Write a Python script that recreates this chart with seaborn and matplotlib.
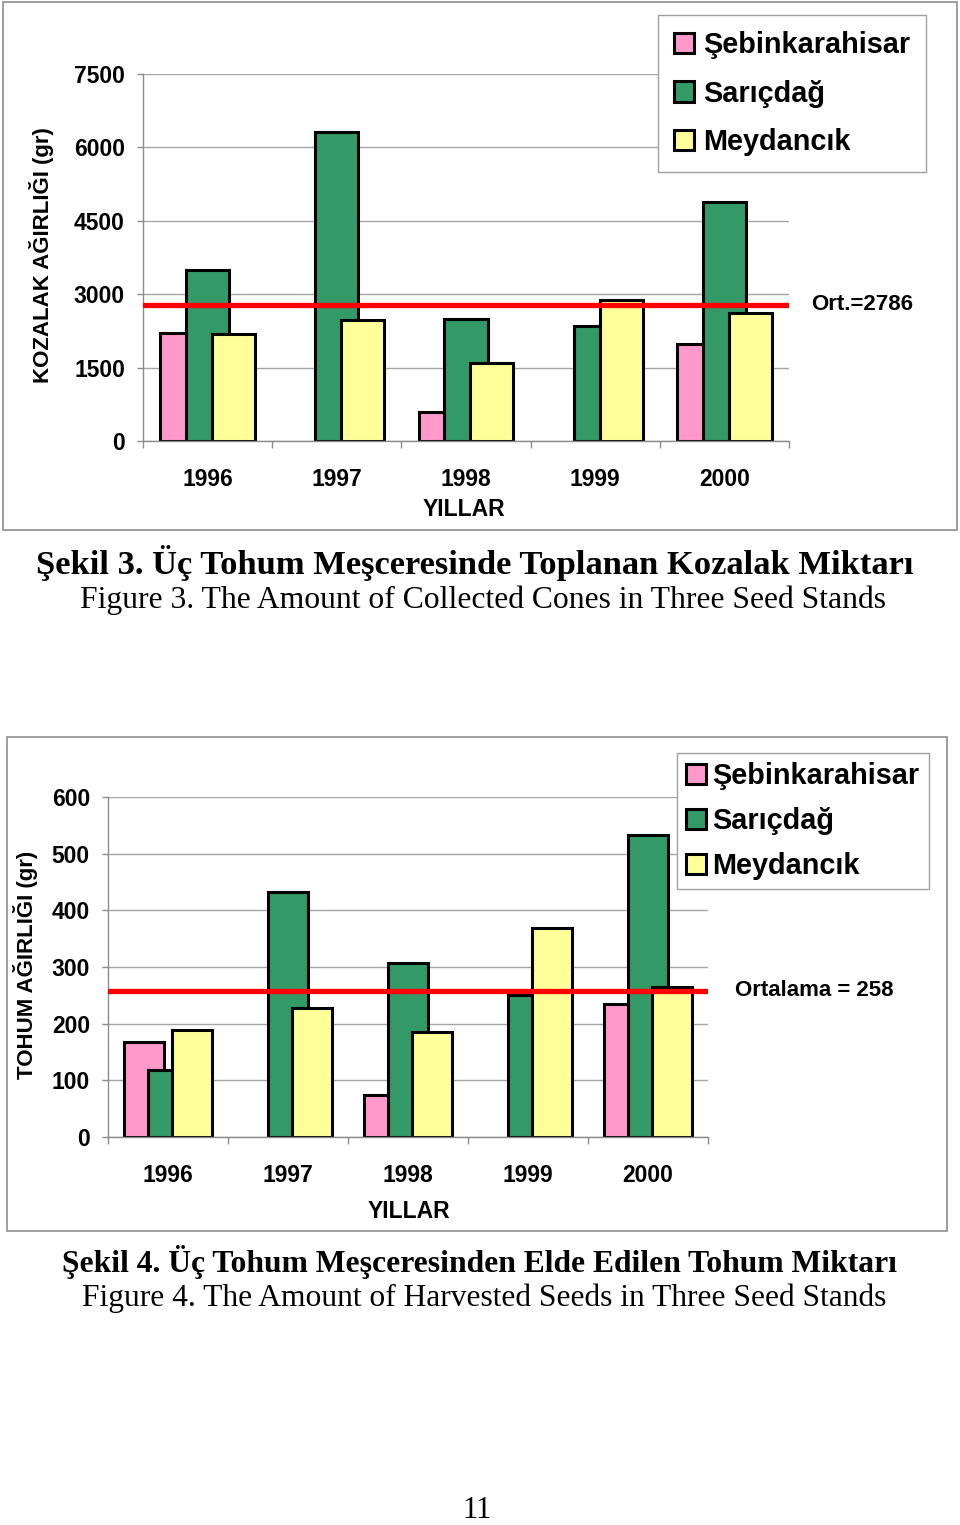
import numpy as np
import pandas as pd
import matplotlib
matplotlib.use("Agg")
import matplotlib.pyplot as plt
import matplotlib.transforms as mtransforms
from matplotlib.patches import Rectangle
import seaborn as sns

# data
years = ["1996", "1997", "1998", "1999", "2000"]
stands = ["Şebinkarahisar", "Sarıçdağ", "Meydancık"]
stand_colors = ["#FF99CC", "#339966", "#FFFF99"]

# Şekil 3 - kozalak ağırlığı (gr)
cone_sebinkarahisar = [2210, np.nan, 590, np.nan, 1980]
cone_saricdag = [3495, 6315, 2495, 2350, 4885]
cone_meydancik = [2190, 2475, 1595, 2880, 2615]
cone_mean = 2786

# Şekil 4 - tohum ağırlığı (gr)
seed_sebinkarahisar = [168, np.nan, 74, np.nan, 235]
seed_saricdag = [118, 432, 307, 251, 533]
seed_meydancik = [189, 228, 185, 369, 265]
seed_mean = 258

sns.set_theme(style="white")
plt.rcParams["font.family"] = ["Liberation Sans", "DejaVu Sans"]
plt.rcParams["text.color"] = "black"

W, H = 960, 1525
fig = plt.figure(figsize=(W / 100, H / 100), dpi=100)
GRAY = "#8c8c8c"


def px_axes(x0, y0, x1, y1):
    return fig.add_axes([x0 / W, 1 - y1 / H, (x1 - x0) / W, (y1 - y0) / H])


def draw_chart(ax, seb, sar, mey, ymax, step, mean, mean_text, text_x,
               legend_xy, legend_pad, legend_spacing, legend_textpad):
    df = pd.DataFrame({
        "Yıl": years * 3,
        "Tür": np.repeat(stands, len(years)),
        "Değer": list(seb) + list(sar) + list(mey),
    })
    sns.barplot(data=df, x="Yıl", y="Değer", hue="Tür", hue_order=stands,
                palette=stand_colors, saturation=1, width=0.6, dodge=True,
                errorbar=None, edgecolor="black", linewidth=2.2, ax=ax)
    # Excel style: wide bars that overlap their neighbours
    for cont in ax.containers:
        for bar in cont:
            c = bar.get_x() + bar.get_width() / 2
            bar.set_width(1 / 3)
            bar.set_x(c - 1 / 6)

    ax.axhline(mean, color="#ff0000", lw=3.8, zorder=5)
    trans = mtransforms.blended_transform_factory(ax.transAxes, ax.transData)
    ax.text(text_x, mean, mean_text, transform=trans, ha="left", va="center",
            fontsize=16, fontweight="bold")

    ax.set_xlim(-0.5, len(years) - 0.5)
    ax.set_ylim(0, ymax)
    ax.set_yticks(np.arange(0, ymax + 1, step))
    ax.set_xticks(range(len(years)), years)
    ax.set_xticks(np.arange(-0.5, len(years), 1), minor=True)
    ax.set_xlabel("")
    ax.set_ylabel("")
    ax.grid(axis="y", color="#a6a6a6", linewidth=1)
    ax.set_axisbelow(True)
    for s in ["top", "right"]:
        ax.spines[s].set_visible(False)
    for s in ["left", "bottom"]:
        ax.spines[s].set_color(GRAY)
        ax.spines[s].set_linewidth(1)
    ax.tick_params(axis="y", left=True, length=4, width=1, color=GRAY, pad=9,
                   labelsize=16.5, labelcolor="black")
    ax.tick_params(axis="x", which="major", length=0, pad=19.5,
                   labelsize=16.5, labelcolor="black")
    ax.tick_params(axis="x", which="minor", bottom=True, length=5, width=1,
                   color=GRAY)
    for lab in ax.get_xticklabels() + ax.get_yticklabels():
        lab.set_fontweight("bold")

    sns.move_legend(ax, "upper left",
                    bbox_to_anchor=(legend_xy[0] / W, 1 - legend_xy[1] / H),
                    bbox_transform=fig.transFigure, title=None, frameon=True,
                    fancybox=False, framealpha=1, edgecolor="#a0a0a0",
                    borderaxespad=0, borderpad=legend_pad,
                    labelspacing=legend_spacing, handlelength=0.7,
                    handleheight=0.7, handletextpad=legend_textpad,
                    prop={"size": 20.8, "weight": "bold"})
    ax.get_legend().get_frame().set_linewidth(1)


# Şekil 3
fig.add_artist(Rectangle((3 / W, 1 - 530 / H), 954 / W, 528 / H,
                         transform=fig.transFigure, fill=False,
                         edgecolor=GRAY, lw=1.2))
ax1 = px_axes(143, 74, 789, 441)
draw_chart(ax1, cone_sebinkarahisar, cone_saricdag, cone_meydancik,
           7500, 1500, cone_mean, "Ort.=2786", 1.034, (658, 15),
           0.55, 0.72, 0.3)
fig.text(42 / W, 1 - 255 / H, "KOZALAK AĞIRLIĞI (gr)", rotation=90,
         ha="center", va="center", fontsize=16, fontweight="bold")
fig.text(464 / W, 1 - 509 / H, "YILLAR", ha="center", va="center",
         fontsize=16.5, fontweight="bold")
fig.text(475 / W, 1 - 563 / H,
         "Şekil 3. Üç Tohum Meşceresinde Toplanan Kozalak Miktarı",
         ha="center", va="center", fontsize=24.8, fontweight="bold",
         family="Liberation Serif")
fig.text(483 / W, 1 - 600 / H,
         "Figure 3. The Amount of Collected Cones in Three Seed Stands",
         ha="center", va="center", fontsize=22.8, family="Liberation Serif")

# Şekil 4
fig.add_artist(Rectangle((7 / W, 1 - 1231 / H), 940 / W, 494 / H,
                         transform=fig.transFigure, fill=False,
                         edgecolor=GRAY, lw=1.2))
ax2 = px_axes(108, 797, 708, 1137)
draw_chart(ax2, seed_sebinkarahisar, seed_saricdag, seed_meydancik,
           600, 100, seed_mean, "Ortalama = 258", 1.045, (677, 753),
           0.32, 0.58, 0.2)
fig.text(26 / W, 1 - 965 / H, "TOHUM AĞIRLIĞI (gr)", rotation=90,
         ha="center", va="center", fontsize=16, fontweight="bold")
fig.text(409 / W, 1 - 1211 / H, "YILLAR", ha="center", va="center",
         fontsize=16.5, fontweight="bold")
fig.text(480 / W, 1 - 1262 / H,
         "Şekil 4. Üç Tohum Meşceresinden Elde Edilen Tohum Miktarı",
         ha="center", va="center", fontsize=22.8, fontweight="bold",
         family="Liberation Serif")
fig.text(484 / W, 1 - 1298 / H,
         "Figure 4. The Amount of Harvested Seeds in Three Seed Stands",
         ha="center", va="center", fontsize=22.7, family="Liberation Serif")

fig.text(477 / W, 1 - 1510 / H, "11", ha="center", va="center",
         fontsize=22, family="Liberation Serif")

fig.savefig("out.png", dpi=100, facecolor="white")
